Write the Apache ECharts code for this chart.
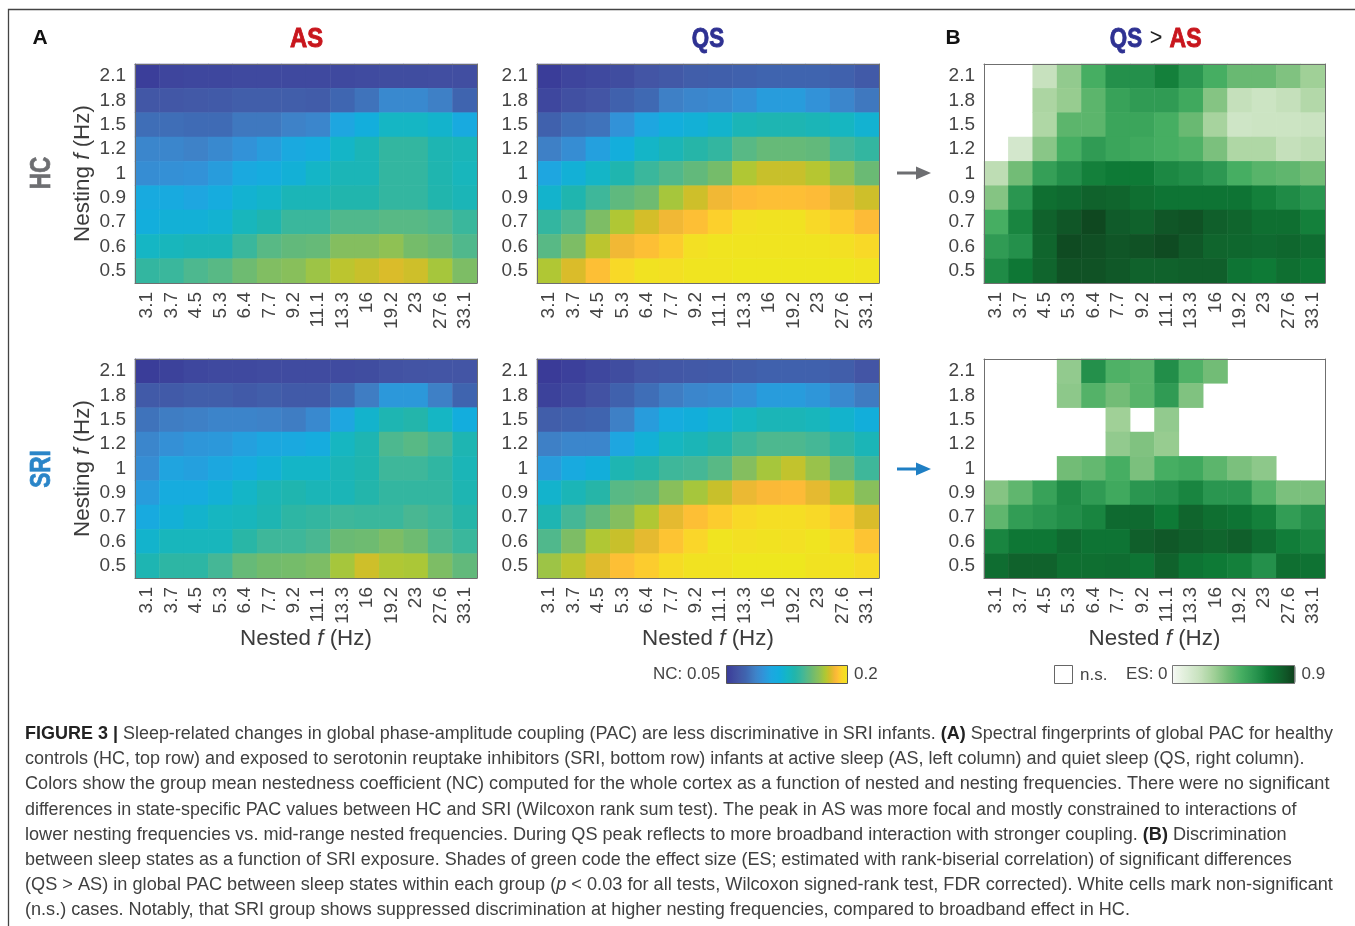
<!DOCTYPE html>
<html><head><meta charset="utf-8">
<style>html,body{margin:0;padding:0;background:#fff}#c{width:1355px;height:926px}</style>
<script src="https://cdn.jsdelivr.net/npm/echarts@6/dist/echarts.min.js"></script>
</head><body><div id="c"></div>
<script>
const nestedF=['3.1','3.7','4.5','5.3','6.4','7.7','9.2','11.1','13.3','16','19.2','23','27.6','33.1'];
const nestingF=['2.1','1.8','1.5','1.2','1','0.9','0.7','0.6','0.5'];
const n=null;
const hcAS=[
[.052,.056,.057,.057,.058,.058,.058,.058,.058,.059,.060,.060,.061,.061],
[.066,.066,.067,.068,.070,.070,.070,.069,.075,.080,.090,.090,.085,.074],
[.078,.078,.077,.077,.082,.082,.086,.088,.105,.115,.125,.125,.122,.110],
[.088,.088,.086,.090,.095,.100,.108,.112,.124,.130,.140,.140,.132,.130],
[.092,.094,.095,.100,.108,.112,.118,.124,.130,.130,.140,.140,.133,.128],
[.110,.110,.105,.112,.120,.123,.130,.130,.134,.134,.140,.140,.134,.130],
[.115,.118,.118,.120,.128,.133,.142,.142,.148,.148,.150,.150,.148,.142],
[.125,.128,.130,.130,.142,.150,.153,.154,.162,.162,.165,.158,.155,.148],
[.140,.142,.147,.150,.156,.161,.163,.168,.174,.176,.179,.177,.170,.160]];
const hcQS=[
[.051,.056,.058,.060,.065,.067,.070,.071,.072,.074,.074,.074,.072,.068],
[.057,.062,.065,.072,.076,.085,.088,.090,.094,.100,.100,.095,.088,.082],
[.072,.078,.080,.095,.105,.115,.118,.122,.130,.132,.132,.130,.126,.120],
[.085,.092,.102,.115,.124,.130,.136,.140,.150,.154,.154,.153,.145,.140],
[.105,.118,.124,.133,.142,.148,.153,.158,.172,.176,.176,.173,.165,.155],
[.122,.133,.143,.152,.156,.170,.177,.183,.186,.187,.187,.186,.181,.177],
[.140,.147,.160,.172,.178,.183,.187,.191,.197,.198,.198,.194,.190,.186],
[.150,.160,.174,.183,.187,.190,.197,.199,.199,.199,.199,.199,.197,.194],
[.172,.179,.187,.194,.198,.197,.199,.199,.200,.200,.200,.200,.200,.199]];
const sriAS=[
[.051,.054,.057,.058,.058,.059,.059,.059,.059,.060,.063,.064,.065,.065],
[.068,.068,.070,.070,.068,.070,.068,.068,.076,.084,.098,.098,.085,.074],
[.080,.084,.085,.087,.087,.086,.084,.090,.105,.122,.132,.135,.125,.114],
[.088,.094,.097,.098,.102,.106,.108,.112,.126,.132,.147,.150,.145,.132],
[.092,.104,.102,.106,.112,.118,.124,.124,.130,.133,.143,.143,.139,.130],
[.100,.112,.112,.118,.124,.130,.133,.130,.130,.135,.140,.140,.140,.132],
[.110,.118,.122,.126,.128,.132,.138,.140,.143,.142,.142,.146,.143,.136],
[.122,.128,.128,.128,.137,.143,.143,.146,.155,.156,.160,.156,.148,.142],
[.132,.138,.138,.145,.154,.157,.158,.160,.170,.177,.172,.171,.160,.153]];
const sriQS=[
[.050,.053,.057,.060,.065,.066,.067,.068,.070,.072,.072,.072,.070,.065],
[.054,.058,.063,.072,.078,.084,.088,.090,.094,.100,.100,.097,.090,.083],
[.070,.072,.074,.085,.100,.112,.116,.120,.126,.130,.130,.128,.122,.116],
[.085,.088,.088,.105,.118,.126,.130,.135,.143,.147,.147,.145,.138,.130],
[.100,.110,.116,.132,.136,.143,.145,.150,.162,.170,.175,.167,.155,.143],
[.122,.130,.136,.150,.152,.163,.170,.176,.182,.185,.186,.181,.173,.163],
[.132,.145,.153,.162,.172,.181,.187,.190,.194,.196,.196,.194,.189,.179],
[.148,.160,.172,.176,.181,.188,.193,.199,.197,.198,.197,.199,.194,.188],
[.168,.174,.180,.187,.190,.195,.198,.198,.200,.200,.200,.198,.198,.195]];
const hcES=[
[n,n,.19,.33,.50,.62,.62,.68,.60,.50,.42,.42,.37,.30],
[n,n,.27,.32,.45,.55,.58,.58,.52,.36,.20,.17,.20,.25],
[n,n,.26,.45,.45,.54,.54,.50,.42,.28,.16,.17,.17,.18],
[n,.14,.35,.50,.58,.54,.52,.50,.48,.38,.26,.26,.20,.22],
[.22,.40,.56,.62,.68,.70,.70,.65,.63,.59,.50,.46,.44,.40],
[.36,.60,.74,.76,.79,.78,.74,.72,.72,.72,.72,.68,.64,.60],
[.50,.66,.79,.83,.87,.81,.79,.83,.84,.80,.78,.74,.74,.68],
[.58,.62,.78,.86,.85,.83,.84,.86,.82,.78,.77,.76,.77,.75],
[.64,.71,.78,.84,.84,.82,.79,.79,.80,.80,.72,.70,.74,.71]];
const sriES=[
[n,n,n,.33,.62,.48,.46,.63,.48,.40,n,n,n,n],
[n,n,n,.34,.47,.40,.46,.58,.37,n,n,n,n,n],
[n,n,n,n,n,.30,n,.33,n,n,n,n,n,n],
[n,n,n,n,n,.33,.37,.32,n,n,n,n,n,n],
[n,n,n,.40,.43,.50,.38,.50,.52,.45,.38,.34,n,n],
[.36,.44,.55,.64,.58,.52,.60,.62,.66,.60,.60,.47,.38,.38],
[.44,.57,.60,.63,.66,.76,.76,.70,.78,.74,.72,.68,.57,.62],
[.66,.71,.71,.76,.72,.72,.80,.82,.80,.78,.80,.75,.69,.66],
[.75,.79,.79,.74,.74,.75,.72,.79,.72,.70,.68,.62,.74,.73]];
const captionLines=[
"{b|FIGURE 3 |} Sleep-related changes in global phase-amplitude coupling (PAC) are less discriminative in SRI infants. {b|(A)} Spectral fingerprints of global PAC for healthy",
"controls (HC, top row) and exposed to serotonin reuptake inhibitors (SRI, bottom row) infants at active sleep (AS, left column) and quiet sleep (QS, right column).",
"Colors show the group mean nestedness coefficient (NC) computed for the whole cortex as a function of nested and nesting frequencies. There were no significant",
"differences in state-specific PAC values between HC and SRI (Wilcoxon rank sum test). The peak in AS was more focal and mostly constrained to interactions of",
"lower nesting frequencies vs. mid-range nested frequencies. During QS peak reflects to more broadband interaction with stronger coupling. {b|(B)} Discrimination",
"between sleep states as a function of SRI exposure. Shades of green code the effect size (ES; estimated with rank-biserial correlation) of significant differences",
"(QS > AS) in global PAC between sleep states within each group ({i|p} < 0.03 for all tests, Wilcoxon signed-rank test, FDR corrected). White cells mark non-significant",
"(n.s.) cases. Notably, that SRI group shows suppressed discrimination at higher nesting frequencies, compared to broadband effect in HC."];
const captionFit=[.9985,1,1.007,.995,1.0056,.999,1.009,1.0055];

const F='"Liberation Sans",Arial,sans-serif';
const hex=c=>[1,3,5].map(i=>parseInt(c.substr(i,2),16));
function palette(stops,lo,hi,k){const out=[];for(let i=0;i<k;i++){const v=lo+(hi-lo)*i/(k-1);let j=0;while(j<stops.length-2&&v>stops[j+1][0])j++;
 const a=stops[j],b=stops[j+1],t=Math.min(1,(v-a[0])/(b[0]-a[0]));const A=hex(a[1]),B=hex(b[1]);
 out.push('rgb('+A.map((x,m)=>Math.round(x+(B[m]-x)*t)).join(',')+')');}return out;}
const ncStops=[[.05,'#3a3b98'],[.065,'#4355a5'],[.075,'#3f66b0'],[.085,'#3f80c6'],[.095,'#3292d8'],[.105,'#1ea6e0'],[.115,'#12aedd'],[.125,'#14b6c4'],[.135,'#22b5aa'],[.145,'#45b796'],[.155,'#6aba74'],[.165,'#8fc055'],[.172,'#b0c832'],[.178,'#d4bd28'],[.185,'#fdb73a'],[.192,'#fcd42a'],[.2,'#eee71e']];
const esStops=[[0,'#f4f9f2'],[.2,'#c5e0bb'],[.3,'#a0d097'],[.4,'#72bc76'],[.5,'#46ae62'],[.6,'#2a9650'],[.7,'#0e7a36'],[.8,'#105f2b'],[.9,'#0f3e1c']];

const panels=[
 {m:hcAS,l:135,r:477,t:64,b:283,vm:0},{m:hcQS,l:537,r:879,t:64,b:283,vm:0},{m:hcES,l:984,r:1325,t:64,b:283,vm:1},
 {m:sriAS,l:135,r:477,t:359,b:578,vm:0},{m:sriQS,l:537,r:879,t:359,b:578,vm:0},{m:sriES,l:984,r:1325,t:359,b:578,vm:1}];
const W=1355,H=926;
const nameRich={a:{fontFamily:F,fontSize:22.4,color:'#3c3c3c'},i:{fontFamily:F,fontSize:22.4,fontStyle:'italic',color:'#3c3c3c'}};
const grid=[],xAxis=[],yAxis=[],series=[];
panels.forEach((p,i)=>{
 grid.push({left:p.l,right:W-p.r,top:p.t,bottom:H-p.b,show:false});
 xAxis.push({type:'category',gridIndex:i,data:nestedF,z:5,
  axisLine:{show:true,onZero:false,lineStyle:{color:'#6f6f6f',width:1}},axisTick:{show:false},splitLine:{show:false},
  axisLabel:{rotate:90,fontFamily:F,fontSize:19,color:'#444',margin:9,interval:0},
  name:i>=3?'{a|Nested }{i|f}{a| (Hz)}':'',nameLocation:'middle',nameGap:49,nameTextStyle:{rich:nameRich}});
 yAxis.push({type:'category',gridIndex:i,data:nestingF.slice().reverse(),z:5,
  axisLine:{show:true,onZero:false,lineStyle:{color:'#6f6f6f',width:1}},axisTick:{show:false},splitLine:{show:false},
  axisLabel:{fontFamily:F,fontSize:19,color:'#444',margin:9,interval:0,padding:[2,0,0,0]},
  name:(i==0||i==3)?'{a|Nesting }{i|f}{a| (Hz)}':'',nameLocation:'middle',nameGap:41,nameRotate:90,nameTextStyle:{rich:nameRich}});
 const d=[];p.m.forEach((row,ry)=>row.forEach((v,cx)=>{if(v!==null)d.push([cx,8-ry,v]);}));
 series.push({type:'heatmap',xAxisIndex:i,yAxisIndex:i,data:d,progressive:0,emphasis:{disabled:true},itemStyle:{borderWidth:0}});
});
// top/right frame of each panel
panels.forEach((p,i)=>{
 xAxis.push({type:'category',gridIndex:i,position:'top',data:nestedF,z:5,axisLine:{show:true,onZero:false,lineStyle:{color:'#6f6f6f'}},axisTick:{show:false},axisLabel:{show:false},splitLine:{show:false}});
 yAxis.push({type:'category',gridIndex:i,position:'right',data:nestingF,z:5,axisLine:{show:true,onZero:false,lineStyle:{color:'#6f6f6f'}},axisTick:{show:false},axisLabel:{show:false},splitLine:{show:false}});
});
const txt=(x,y,o,sx)=>({type:'text',x,y,scaleX:sx||1,silent:true,style:Object.assign({fontFamily:F,verticalAlign:'middle',align:'center'},o)});
const ttl=(t,c)=>({text:t,fill:c,stroke:c,lineWidth:.9,fontWeight:'bold',fontSize:28});
const arrow=(y,c)=>[
 {type:'rect',shape:{x:897,y:y-1.5,width:22,height:3},style:{fill:c},silent:true},
 {type:'polygon',shape:{points:[[916,y-6.5],[931,y],[916,y+6.5]]},style:{fill:c},silent:true}];
const graphic=[
 {type:'polyline',shape:{points:[[8.5,926],[8.5,9.5],[1355,9.5]]},style:{stroke:'#444',lineWidth:1.3,fill:null},silent:true},
 txt(40,38,{text:'A',fontWeight:'bold',fontSize:21,fill:'#111'}),
 txt(953,38,{text:'B',fontWeight:'bold',fontSize:21,fill:'#111'}),
 txt(306.5,39,ttl('AS','#c8161d'),.85),
 txt(708,39,ttl('QS','#2e3192'),.8),
 txt(1126,39,ttl('QS','#2e3192'),.8),
 txt(1156,38,{text:'>',fontSize:24,fill:'#222'},.9),
 txt(1185.5,39,ttl('AS','#c8161d'),.82),
 {type:'text',x:42,y:173,rotation:Math.PI/2,scaleX:.78,silent:true,style:{text:'HC',fontFamily:F,fontWeight:'bold',fontSize:29,fill:'#6d6e71',stroke:'#6d6e71',lineWidth:.7,align:'center',verticalAlign:'middle'}},
 {type:'text',x:42,y:469,rotation:Math.PI/2,scaleX:.78,silent:true,style:{text:'SRI',fontFamily:F,fontWeight:'bold',fontSize:29,fill:'#2a85c8',stroke:'#2a85c8',lineWidth:.7,align:'center',verticalAlign:'middle'}},
 ...arrow(173,'#6d6e71'),...arrow(469,'#1f7fc4'),
 {type:'rect',z:100,shape:{x:726.5,y:665.5,width:121,height:18},style:{fill:null,stroke:'#555',lineWidth:1},silent:true},
 {type:'rect',z:100,shape:{x:1172.5,y:665.5,width:122,height:18},style:{fill:null,stroke:'#777',lineWidth:1},silent:true},
 {type:'rect',shape:{x:1054.5,y:665.5,width:18,height:18},style:{fill:'#fff',stroke:'#666',lineWidth:1},silent:true},
 txt(1080,675,{text:'n.s.',align:'left',fontSize:17,fill:'#444'}),
 ...captionLines.map((l,i)=>({type:'text',x:25,y:734+i*25.2,scaleX:captionFit[i],silent:true,style:{text:l,fontFamily:F,fontSize:18,fill:'#404040',verticalAlign:'middle',align:'left',
   rich:{b:{fontFamily:F,fontWeight:'bold',fontSize:18,fill:'#222'},i:{fontFamily:F,fontStyle:'italic',fontSize:18,fill:'#404040'}}}}))
];
const chart=echarts.init(document.getElementById('c'),null,{renderer:'canvas'});
chart.setOption({animation:false,backgroundColor:'#fff',grid,xAxis,yAxis,series,graphic:{elements:graphic},
 tooltip:{show:false},
 visualMap:[
  {type:'continuous',seriesIndex:[0,1,3,4],min:.05,max:.2,orient:'horizontal',left:638,top:650,itemWidth:19,itemHeight:122,calculable:false,realtime:false,hoverLink:false,
   text:['0.2','NC: 0.05'],textGap:6,textStyle:{fontFamily:F,fontSize:17,color:'#444'},inRange:{color:palette(ncStops,.05,.2,64)}},
  {type:'continuous',seriesIndex:[2,5],min:0,max:.9,orient:'horizontal',left:1111,top:650,itemWidth:19,itemHeight:122,calculable:false,realtime:false,hoverLink:false,
   text:['0.9','ES: 0'],textGap:6,textStyle:{fontFamily:F,fontSize:17,color:'#444'},inRange:{color:palette(esStops,0,.9,64)}}
 ]});
</script></body></html>
